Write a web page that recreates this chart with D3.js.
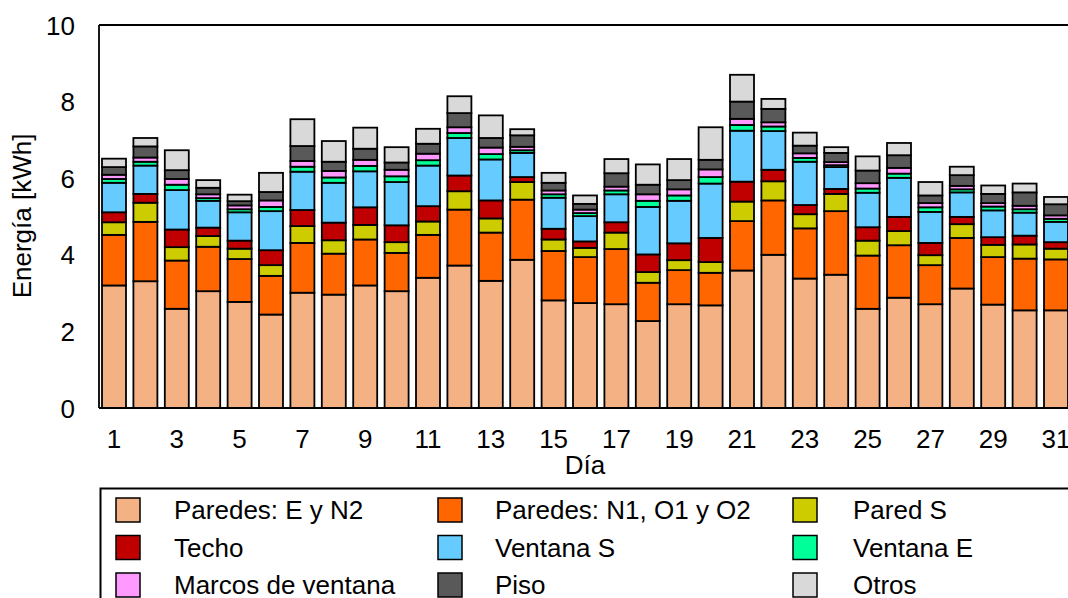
<!DOCTYPE html>
<html>
<head>
<meta charset="utf-8">
<script src="https://cdn.jsdelivr.net/npm/d3@7"></script>
<style>
  html, body { margin: 0; padding: 0; background: #fff; }
  svg { display: block; font-family: "Liberation Sans", Arial, sans-serif; }
</style>
</head>
<body>
<svg id="chart" width="1068" height="598"></svg>
<script>
const days = d3.range(1, 32);
const seriesNames = ["Paredes: E y N2", "Paredes: N1, O1 y O2", "Pared S", "Techo", "Ventana S", "Ventana E", "Marcos de ventana", "Piso", "Otros"];
const seriesColors = ["#F4B183", "#FF6600", "#CCCC00", "#C00000", "#66CCFF", "#00FF99", "#FF99FF", "#595959", "#D9D9D9"];

const paredesEN2 = [3.20,3.31,2.59,3.05,2.77,2.44,3.01,2.96,3.20,3.05,3.40,3.72,3.32,3.87,2.81,2.74,2.71,2.27,2.71,2.68,3.59,4.00,3.38,3.48,2.59,2.88,2.71,3.12,2.70,2.55,2.55];
const paredesNO = [1.32,1.55,1.26,1.16,1.12,1.01,1.30,1.07,1.20,1.00,1.12,1.46,1.26,1.57,1.29,1.20,1.44,1.00,0.89,0.85,1.29,1.42,1.31,1.66,1.39,1.37,1.02,1.32,1.24,1.35,1.33];
const paredS = [0.33,0.50,0.35,0.28,0.27,0.28,0.44,0.35,0.38,0.28,0.35,0.48,0.37,0.46,0.30,0.24,0.43,0.28,0.26,0.28,0.51,0.50,0.37,0.45,0.39,0.37,0.26,0.36,0.32,0.37,0.28];
const techo = [0.26,0.23,0.46,0.22,0.21,0.39,0.42,0.46,0.46,0.44,0.40,0.41,0.47,0.13,0.28,0.17,0.27,0.46,0.44,0.63,0.52,0.30,0.24,0.13,0.35,0.37,0.32,0.19,0.20,0.23,0.17];
const ventanaS = [0.77,0.74,1.03,0.70,0.74,1.02,1.00,1.04,0.94,1.13,1.06,0.98,1.07,0.63,0.81,0.66,0.73,1.24,1.11,1.42,1.33,1.01,1.13,0.57,0.90,1.02,0.81,0.64,0.70,0.60,0.53];
const ventanaE = [0.10,0.10,0.14,0.07,0.08,0.11,0.13,0.14,0.14,0.15,0.14,0.13,0.14,0.07,0.09,0.08,0.10,0.16,0.14,0.17,0.15,0.12,0.10,0.05,0.11,0.11,0.12,0.08,0.10,0.09,0.08];
const marcos = [0.11,0.11,0.15,0.10,0.10,0.17,0.15,0.17,0.16,0.17,0.17,0.15,0.17,0.09,0.10,0.09,0.10,0.17,0.16,0.20,0.16,0.11,0.12,0.08,0.14,0.15,0.11,0.09,0.09,0.09,0.09];
const piso = [0.20,0.29,0.23,0.17,0.11,0.22,0.39,0.24,0.29,0.19,0.26,0.37,0.25,0.30,0.20,0.15,0.35,0.25,0.24,0.25,0.45,0.35,0.20,0.24,0.33,0.33,0.20,0.28,0.24,0.35,0.29];
const otros = [0.22,0.22,0.52,0.20,0.17,0.50,0.70,0.54,0.55,0.40,0.39,0.44,0.59,0.16,0.26,0.22,0.37,0.53,0.55,0.85,0.70,0.26,0.34,0.15,0.37,0.32,0.35,0.22,0.22,0.23,0.19];
const yTicks = [0, 2, 4, 6, 8, 10];
const xTickDays = days.filter(d => d % 2 === 1);

const seriesValues = [paredesEN2, paredesNO, paredS, techo, ventanaS, ventanaE, marcos, piso, otros];
const keys = seriesNames;
const table = days.map((d, i) => {
  const row = { day: d };
  keys.forEach((k, j) => row[k] = seriesValues[j][i]);
  return row;
});

const svg = d3.select("#chart");
const FONT = 26;
const plot = { left: 98.3, right: 1071.7, top: 25, bottom: 408 };

const x = d3.scaleBand().domain(days).range([plot.left, plot.right]).paddingInner(0.236).paddingOuter(0.118);
const y = d3.scaleLinear().domain([0, 10]).range([plot.bottom, plot.top]);
const color = d3.scaleOrdinal().domain(keys).range(seriesColors);

const stack = d3.stack().keys(keys)(table);

// bars
svg.append("g").selectAll("g").data(stack).join("g")
  .attr("fill", d => color(d.key))
  .selectAll("rect").data(d => d).join("rect")
  .attr("x", d => x(d.data.day))
  .attr("width", x.bandwidth())
  .attr("y", d => y(d[1]))
  .attr("height", d => y(d[0]) - y(d[1]))
  .attr("stroke", "#000")
  .attr("stroke-width", 1.8);

// frame
svg.append("line").attr("x1", 99).attr("x2", 1070).attr("y1", plot.top).attr("y2", plot.top).attr("stroke", "#000").attr("stroke-width", 1.8);
svg.append("line").attr("x1", 99).attr("x2", 1070).attr("y1", plot.bottom).attr("y2", plot.bottom).attr("stroke", "#000").attr("stroke-width", 1.8);
svg.append("line").attr("x1", 99).attr("x2", 99).attr("y1", plot.top).attr("y2", plot.bottom).attr("stroke", "#000").attr("stroke-width", 1.8);

// y axis labels
const yAxis = d3.axisLeft(y).tickValues(yTicks).tickSize(0).tickPadding(0).tickFormat(d3.format("d"));
const gy = svg.append("g").attr("transform", "translate(75,0)").call(yAxis);
gy.select(".domain").remove();
gy.selectAll("text").attr("font-size", FONT).attr("font-family", "Liberation Sans, Arial, sans-serif").attr("fill", "#000").attr("dy", "0.35em");

// x axis labels
const xAxis = d3.axisBottom(x).tickValues(xTickDays).tickSize(0).tickPadding(0);
const gx = svg.append("g").attr("transform", "translate(0,448)").call(xAxis);
gx.select(".domain").remove();
gx.selectAll("text").attr("font-size", FONT).attr("font-family", "Liberation Sans, Arial, sans-serif").attr("fill", "#000").attr("dy", 0);

// axis titles
svg.append("text").attr("x", (plot.left + plot.right) / 2).attr("y", 474).attr("text-anchor", "middle").attr("font-size", FONT).text("Día");
svg.append("text").attr("transform", "translate(31,216) rotate(-90)").attr("text-anchor", "middle").attr("font-size", FONT).text("Energía [kWh]");

// legend
svg.append("rect").attr("x", 100.5).attr("y", 488.5).attr("width", 1000).attr("height", 200).attr("fill", "none").attr("stroke", "#000").attr("stroke-width", 2);
const colSwatch = [116, 438, 793];
const colText = [174, 495, 853];
const rowCenter = [510, 547.5, 585];
const lg = svg.append("g").selectAll("g").data(keys).join("g")
  .attr("transform", (d, i) => `translate(0,${rowCenter[Math.floor(i / 3)]})`);
lg.append("rect")
  .attr("x", (d, i) => colSwatch[i % 3]).attr("y", -12).attr("width", 24).attr("height", 24)
  .attr("fill", d => color(d)).attr("stroke", "#000").attr("stroke-width", 1.5);
lg.append("text")
  .attr("x", (d, i) => colText[i % 3]).attr("y", 9).attr("font-size", FONT).text(d => d);
</script>
</body>
</html>
